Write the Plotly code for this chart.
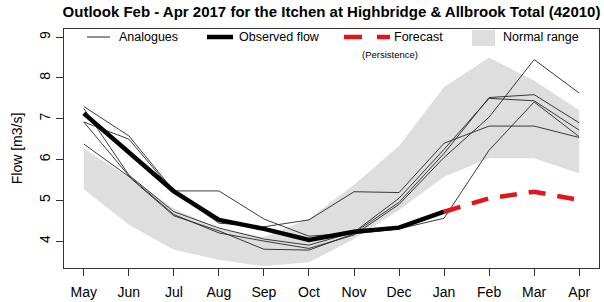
import plotly.graph_objects as go

months = ["May", "Jun", "Jul", "Aug", "Sep", "Oct", "Nov", "Dec", "Jan", "Feb", "Mar", "Apr"]
idx = list(range(len(months)))

normal_upper = [6.27, 5.55, 4.80, 4.30, 4.10, 4.55, 5.38, 6.33, 7.78, 8.50, 7.94, 7.21]
normal_lower = [5.27, 4.40, 3.79, 3.54, 3.38, 3.48, 4.05, 4.76, 5.58, 6.03, 6.03, 5.66]

analogue_1 = [7.30, 6.58, 5.23, 5.23, 4.54, 4.12, 4.20, 4.95, 6.15, 7.52, 7.59, 6.90]
analogue_2 = [6.92, 6.50, 5.20, 4.44, 4.35, 4.52, 5.21, 5.19, 6.40, 6.82, 6.82, 6.54]
analogue_3 = [7.25, 5.62, 4.72, 4.32, 4.05, 3.90, 4.22, 5.05, 6.25, 7.50, 7.44, 6.72]
analogue_4 = [6.92, 5.60, 4.65, 4.20, 4.00, 3.82, 4.15, 4.90, 6.05, 7.04, 8.45, 7.63]
analogue_5 = [6.38, 5.58, 4.62, 4.25, 3.80, 3.78, 4.18, 4.30, 4.56, 6.23, 7.41, 6.56]
analogues = [analogue_1, analogue_2, analogue_3, analogue_4, analogue_5]

observed = [7.13, 6.17, 5.22, 4.52, 4.30, 4.03, 4.23, 4.33, 4.72]
forecast_months = ["Jan", "Feb", "Mar", "Apr"]
forecast = [4.72, 5.05, 5.21, 5.01]

FONT = "Liberation Sans, Arial, sans-serif"
fig = go.Figure()

fig.add_trace(go.Scatter(
    x=idx + idx[::-1], y=normal_upper + normal_lower[::-1],
    fill="toself", fillcolor="#dedede", line=dict(width=0), mode="lines",
    hoverinfo="skip", showlegend=False))

for a in analogues:
    fig.add_trace(go.Scatter(x=idx, y=a, mode="lines",
                             line=dict(color="#262626", width=0.9), showlegend=False))

fig.add_trace(go.Scatter(x=idx[:len(observed)], y=observed, mode="lines",
                         line=dict(color="black", width=4.5), showlegend=False))

fx = [months.index(m) for m in forecast_months]
fig.add_trace(go.Scatter(x=fx, y=forecast, mode="lines",
                         line=dict(color="#e3141b", width=4.5, dash="17px,12px"),
                         showlegend=False))

# manual legend (pixel -> paper)
L, R, T, B = 64, 599, 29, 268
def px(xp):
    return (xp - L) / (R - L)
def py(yp):
    return (B - yp) / (B - T)

shapes = []
shapes.append(dict(type="line", xref="paper", yref="paper", x0=px(87), x1=px(110), y0=py(37), y1=py(37),
                   line=dict(color="#262626", width=1)))
shapes.append(dict(type="line", xref="paper", yref="paper", x0=px(207), x1=px(233), y0=py(37), y1=py(37),
                   line=dict(color="black", width=4.5)))
shapes.append(dict(type="line", xref="paper", yref="paper", x0=px(344), x1=px(362), y0=py(37), y1=py(37),
                   line=dict(color="#e3141b", width=4.5)))
shapes.append(dict(type="line", xref="paper", yref="paper", x0=px(377), x1=px(390), y0=py(37), y1=py(37),
                   line=dict(color="#e3141b", width=4.5)))
shapes.append(dict(type="rect", xref="paper", yref="paper", x0=px(472), x1=px(495), y0=py(46), y1=py(30),
                   fillcolor="#dedede", line=dict(width=0)))

ann = []
def txt(x, y, s, size=12.5, xanchor="left"):
    ann.append(dict(x=px(x), y=py(y), xref="paper", yref="paper", text=s, showarrow=False,
                    xanchor=xanchor, yanchor="middle", font=dict(family=FONT, size=size, color="black")))
txt(117, 37, "Analogues")
txt(237, 37, "Observed flow")
txt(392, 37, "Forecast")
txt(390, 55, "(Persistence)", size=9.5, xanchor="center")
txt(501, 37, "Normal range")

fig.update_layout(
    width=604, height=302,
    margin=dict(l=L, r=604 - R, t=T, b=302 - B),
    paper_bgcolor="white", plot_bgcolor="white",
    shapes=shapes, annotations=ann,
    title=dict(text="<b>Outlook Feb - Apr 2017 for the Itchen at Highbridge & Allbrook Total (42010)</b>",
               x=(L + R) / 2 / 604, xanchor="center", y=1 - 12 / 302, yanchor="middle",
               font=dict(family=FONT, size=15, color="black")),
    font=dict(family=FONT, size=14, color="black"),
)
fig.update_xaxes(range=[-0.44, 11.44], tickvals=idx, ticktext=months, automargin=False,
                 showgrid=False, zeroline=False, showline=True, mirror=True,
                 linecolor="#333333", linewidth=1, ticks="outside", ticklen=7,
                 tickcolor="#333333", tickfont=dict(size=14), ticklabelstandoff=4)
fig.update_yaxes(range=[3.34, 9.2], tickvals=[4, 5, 6, 7, 8, 9], automargin=False,
                 showgrid=False, zeroline=False, showline=True, mirror=True,
                 linecolor="#333333", linewidth=1, ticks="outside", ticklen=7,
                 tickcolor="#333333", tickangle=-90, tickfont=dict(size=14),
                 title=dict(text="Flow [m3/s]", font=dict(size=14), standoff=11))

fig.write_html("out.html", config={"displayModeBar": False},
               post_script="document.body.style.margin='0';document.body.style.overflow='hidden';")
